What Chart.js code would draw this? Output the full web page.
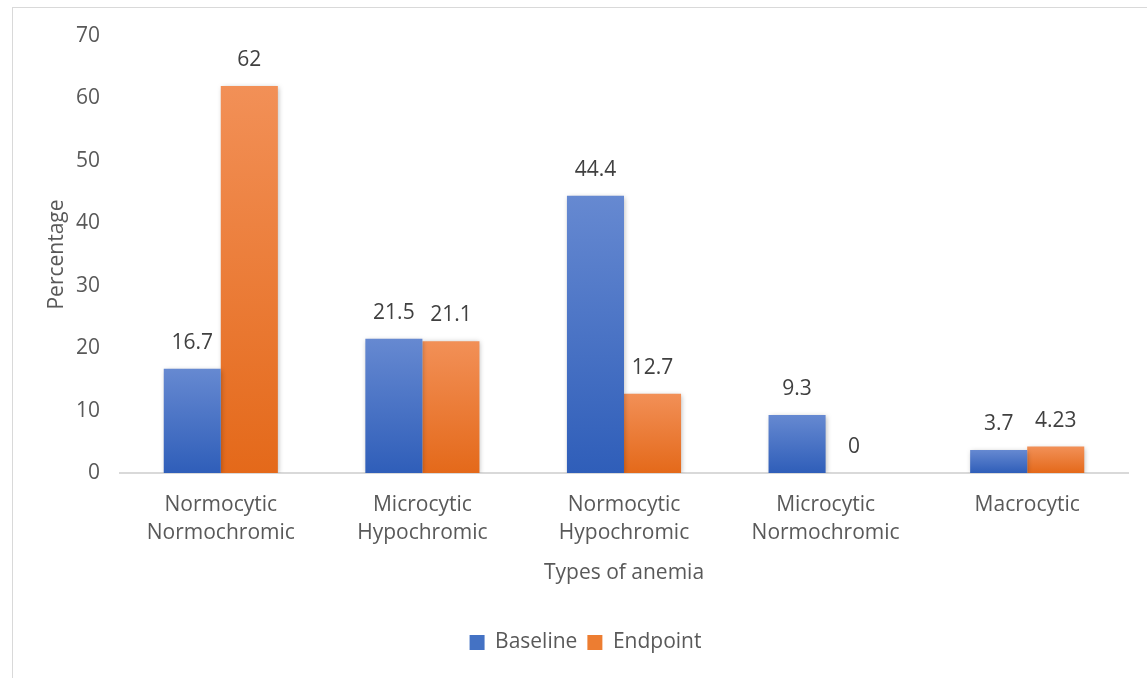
<!DOCTYPE html>
<html>
<head>
<meta charset="utf-8">
<script src="https://cdn.jsdelivr.net/npm/chart.js@4"></script>
<style>
  html, body { margin: 0; padding: 0; background: #fff; }
  #wrap { position: relative; width: 1147px; height: 678px; overflow: hidden; }
  #frame { position: absolute; left: 12px; top: 7px; width: 1160px; height: 700px; border: 1px solid #d9d9d9; box-sizing: border-box; }
  canvas { position: absolute; left: 0; top: 0; }
</style>
</head>
<body>
<div id="wrap">
  <div id="frame"></div>
  <canvas id="myChart" width="1147" height="678"></canvas>
</div>
<script>
let categories = [
    ['Normocytic', 'Normochromic'],
    ['Microcytic', 'Hypochromic'],
    ['Normocytic', 'Hypochromic'],
    ['Microcytic', 'Normochromic'],
    'Macrocytic'
];
let baseline = [16.7, 21.5, 44.4, 9.3, 3.7];
let endpoint = [62, 21.1, 12.7, 0, 4.23];
let yTicks = [0, 10, 20, 30, 40, 50, 60, 70];

let labelFont = { family: "'Open Sans', 'Segoe UI', sans-serif", size: 21, lineHeight: 1.333 };

// each bar gets its own top-to-bottom gradient, like the office chart
function barGradient(topColor, bottomColor) {
    return function (context) {
        let chart = context.chart;
        if (!chart.chartArea || context.parsed === undefined) return bottomColor;
        let y = chart.scales.y;
        let top = y.getPixelForValue(context.parsed.y);
        let bottom = y.getPixelForValue(0);
        if (bottom - top < 1) top = bottom - 1;
        let g = chart.ctx.createLinearGradient(0, top, 0, bottom);
        g.addColorStop(0, topColor);
        g.addColorStop(1, bottomColor);
        return g;
    };
}

// soft drop shadow under the bars
let shadowPlugin = {
    id: 'shadow',
    beforeDatasetsDraw(chart) {
        let ctx = chart.ctx;
        ctx.save();
        ctx.shadowColor = 'rgba(0,0,0,0.28)';
        ctx.shadowBlur = 5;
        ctx.shadowOffsetX = 1;
        ctx.shadowOffsetY = 1;
    },
    afterDatasetsDraw(chart) {
        chart.ctx.restore();
    }
};

// value labels above each bar
let valueLabels = {
    id: 'valueLabels',
    afterDatasetsDraw(chart) {
        let ctx = chart.ctx;
        ctx.save();
        ctx.font = labelFont.size + 'px ' + labelFont.family;
        ctx.fillStyle = '#404040';
        ctx.textAlign = 'center';
        ctx.textBaseline = 'middle';
        chart.data.datasets.forEach((ds, i) => {
            chart.getDatasetMeta(i).data.forEach((bar, j) => {
                ctx.fillText(String(ds.data[j]), bar.x, bar.y - 26);
            });
        });
        ctx.restore();
    }
};

var ctx = document.getElementById('myChart').getContext('2d');
var chart = new Chart(ctx, {
    type: 'bar',
    data: {
        labels: categories,
        datasets: [{
            label: 'Baseline',
            data: baseline,
            backgroundColor: barGradient('#6689d1', '#2f5eb9'),
            legendColor: '#4472c4'
        }, {
            label: 'Endpoint',
            data: endpoint,
            backgroundColor: barGradient('#f29057', '#e4691a'),
            legendColor: '#ed7d31'
        }]
    },
    options: {
        responsive: false,
        animation: false,
        layout: { padding: { left: 43, right: 19, top: 36, bottom: 15 } },
        datasets: { bar: { categoryPercentage: 0.566, barPercentage: 1 } },
        scales: {
            x: {
                afterFit: scale => { scale.height = 149; },
                grid: { display: false, drawTicks: false },
                border: { color: '#d9d9d9', width: 2 },
                ticks: { color: '#595959', font: labelFont, padding: 18, maxRotation: 0 },
                title: { display: true, text: 'Types of anemia', color: '#595959', font: labelFont, padding: { top: 10, bottom: 35 } }
            },
            y: {
                min: 0,
                max: 70,
                afterFit: scale => { scale.width = 77; },
                afterBuildTicks: scale => { scale.ticks = yTicks.map(v => ({ value: v })); },
                grid: { display: false, drawTicks: false },
                border: { display: false },
                ticks: { color: '#595959', font: labelFont, padding: 20 },
                title: { display: true, text: 'Percentage', color: '#595959', font: labelFont, padding: { top: 0, bottom: 12 } }
            }
        },
        plugins: {
            legend: {
                position: 'bottom',
                labels: {
                    color: '#595959',
                    font: labelFont,
                    boxWidth: 15,
                    boxHeight: 15,
                    padding: 10,
                    generateLabels: chart => chart.data.datasets.map((ds, i) => ({
                        text: ds.label,
                        fillStyle: ds.legendColor,
                        strokeStyle: ds.legendColor,
                        lineWidth: 0,
                        datasetIndex: i,
                        fontColor: '#595959'
                    }))
                }
            },
            tooltip: { enabled: false }
        }
    },
    plugins: [shadowPlugin, valueLabels]
});
</script>
</body>
</html>
